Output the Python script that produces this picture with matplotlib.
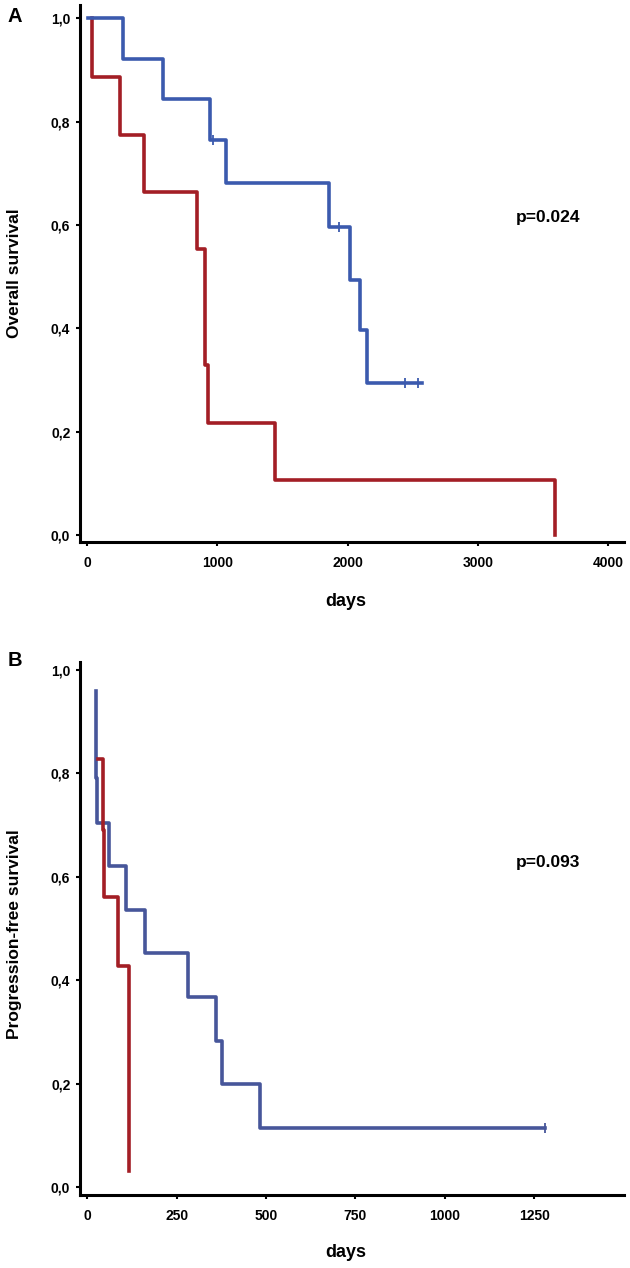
import matplotlib.pyplot as plt

plt.rcParams['font.family'] = ['Liberation Sans', 'DejaVu Sans']

# Panel A - overall survival (days, survival)
os_blue_t = [10, 274, 583, 946, 1067, 1860, 2018, 2095, 2151, 2568]
os_blue_s = [1.0, 0.921, 0.844, 0.765, 0.682, 0.597, 0.494, 0.397, 0.294, 0.294]
os_blue_cens_t = [969, 1936, 2440, 2543]
os_blue_cens_s = [0.765, 0.597, 0.294, 0.294]

os_red_t = [36, 36, 253, 440, 842, 903, 905, 931, 1440, 3594]
os_red_s = [1.0, 0.887, 0.774, 0.663, 0.553, 0.44, 0.329, 0.216, 0.106, 0.0]

# Panel B - progression-free survival
pfs_blue_t = [26, 26, 27, 60, 108, 162, 282, 361, 378, 482, 1281]
pfs_blue_s = [0.96, 0.79, 0.703, 0.62, 0.536, 0.452, 0.367, 0.282, 0.2, 0.114, 0.114]
pfs_blue_cens_t = [1281]
pfs_blue_cens_s = [0.114]

pfs_red_t = [30, 44, 47, 87, 117, 117]
pfs_red_s = [0.827, 0.69, 0.56, 0.428, 0.298, 0.03]

y_ticks = [0.0, 0.2, 0.4, 0.6, 0.8, 1.0]
y_tick_labels = ['0,0', '0,2', '0,4', '0,6', '0,8', '1,0']
os_x_ticks = [0, 1000, 2000, 3000, 4000]
pfs_x_ticks = [0, 250, 500, 750, 1000, 1250]

blue_a = '#3b5aae'
blue_b = '#47569a'
red = '#a31e25'

fig = plt.figure(figsize=(6.3, 12.68), dpi=100)
axA = fig.add_axes([0.127, 0.5726, 0.8635, 0.4235])
axB = fig.add_axes([0.127, 0.0576, 0.8635, 0.4206])


def style(ax, xticks, ylab, yl_y):
    for s in ['top', 'right']:
        ax.spines[s].set_visible(False)
    for s in ['left', 'bottom']:
        ax.spines[s].set_linewidth(2.2)
    ax.set_yticks(y_ticks)
    ax.set_yticklabels(y_tick_labels, fontweight='bold', fontsize=10)
    ax.set_xticks(xticks)
    ax.set_xticklabels([str(v) for v in xticks], fontweight='bold', fontsize=10)
    ax.tick_params(axis='y', length=3, width=1.5, pad=4)
    ax.tick_params(axis='x', length=3, width=1.5, pad=7)
    ax.set_xlabel('days', fontweight='bold', fontsize=13, va='center')
    ax.set_ylabel(ylab, fontweight='bold', fontsize=12.5, va='center')
    ax.yaxis.set_label_coords(-0.12, yl_y)


# panel A
axA.step(os_red_t, os_red_s, where='post', color=red, lw=2.6, zorder=2)
axA.step(os_blue_t, os_blue_s, where='post', color=blue_a, lw=2.6, zorder=3)
axA.plot(os_blue_cens_t, os_blue_cens_s, ls='none', marker='|', ms=7, mew=1.3,
         color=blue_a, zorder=4)
axA.set_xlim(-54, 4121)
axA.set_ylim(-0.0136, 1.026)
style(axA, os_x_ticks, 'Overall survival', 0.5)
axA.xaxis.set_label_coords(0.488, -0.1117)
axA.text(3538, 0.614, 'p=0.024', fontweight='bold', fontsize=12.5,
         ha='center', va='center')

# panel B
axB.step(pfs_blue_t, pfs_blue_s, where='post', color=blue_b, lw=2.6, zorder=2)
axB.step(pfs_red_t, pfs_red_s, where='post', color=red, lw=2.6, zorder=3)
axB.plot(pfs_blue_cens_t, pfs_blue_cens_s, ls='none', marker='|', ms=7, mew=1.3,
         color=blue_b, zorder=4)
axB.set_xlim(-20, 1501)
axB.set_ylim(-0.0155, 1.016)
style(axB, pfs_x_ticks, 'Progression-free survival', 0.49)
axB.xaxis.set_label_coords(0.488, -0.1088)
axB.text(1289, 0.627, 'p=0.093', fontweight='bold', fontsize=12.5,
         ha='center', va='center')

fig.text(15 / 630, 1 - 17 / 1268, 'A', fontweight='bold', fontsize=14.5,
         ha='center', va='center')
fig.text(15 / 630, 1 - 661 / 1268, 'B', fontweight='bold', fontsize=14.5,
         ha='center', va='center')

fig.savefig('out.png', dpi=100)
